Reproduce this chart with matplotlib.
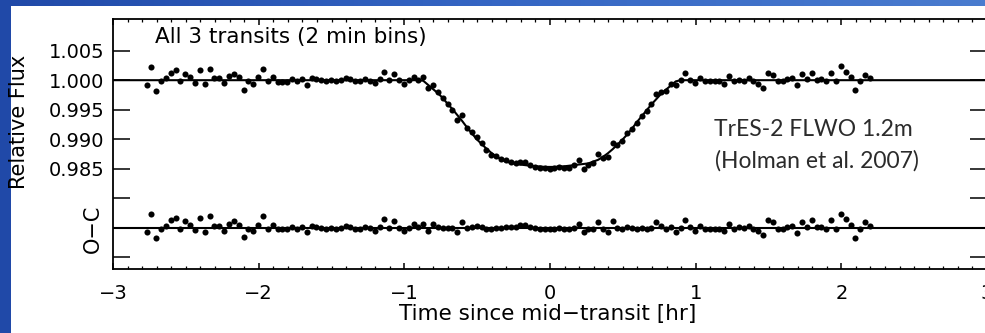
import numpy as np
import matplotlib
matplotlib.use("Agg")
import matplotlib.pyplot as plt
from matplotlib.patches import Rectangle
from matplotlib.colors import LinearSegmentedColormap
from matplotlib.ticker import MultipleLocator, FixedLocator, FixedFormatter

# Combined light curve of three transits, binned to 2 minutes
t_first_bin = -2.77          # hr, centre of the first bin
bin_hr = 2.0 / 60.0          # 2 min bins

# Observed minus computed residuals for each bin
resid = [
    -0.0008, 0.0023, -0.0018, -0.0002, 0.0003, 0.0013, 0.0017, -0.0002, 0.0011, 0.0005,
    -0.0004, 0.0017, -0.0007, 0.0019, 0.0003, 0.0003, -0.0005, 0.0007, 0.0011, 0.0005,
    -0.0016, -0.0002, -0.0006, 0.0005, 0.0019, -0.0002, 0.0005, -0.0003, -0.0003, -0.0003,
    0.0002, -0.0002, 0.0002, -0.0008, 0.0003, 0.0002, 0.0000, -0.0002,
    0.0000, -0.0002, 0.0000, 0.0003, 0.0002, -0.0002, -0.0002, 0.0002, -0.0001, -0.0005,
    0.0002, 0.0014, 0.0000, 0.0011, 0.0000, -0.0006, 0.0000, 0.0006, 0.0001, 0.0007,
    -0.0006, 0.0006, 0.0002, 0.0000, 0.0000, -0.0001, -0.0008, 0.0010, -0.0001, 0.0002,
    0.0003, 0.0002, -0.0002, -0.0003, 0.0000, 0.0000, 0.0002, 0.0001,
    0.0002, 0.0005, 0.0005, 0.0001, -0.0001, -0.0003, -0.0002, -0.0003, -0.0002, -0.0001,
    -0.0002, -0.0003, 0.0000, 0.0007, -0.0008, -0.0002, -0.0003, 0.0010, -0.0002, -0.0007,
    0.0011, 0.0000, -0.0002, 0.0002, -0.0001, -0.0002, 0.0000, -0.0002, 0.0000, 0.0009,
    0.0003, -0.0002, 0.0002, -0.0007, 0.0000, 0.0013, 0.0001, -0.0005,
    0.0003, -0.0002, -0.0002, -0.0002, -0.0002, -0.0006, 0.0007, -0.0002, 0.0001, -0.0001,
    0.0003, -0.0002, -0.0006, -0.0013, 0.0013, 0.0009, -0.0002, -0.0002, 0.0002, 0.0003,
    -0.0009, 0.0010, 0.0002, 0.0013, 0.0001, 0.0002, -0.0002, 0.0013, -0.0002, 0.0024,
    0.0014, 0.0005, -0.0017, -0.0002, 0.0009, 0.0003,
]

# Best-fit transit model: flat before ingress, the dip, flat after egress
n_bins_before = 57
model_dip = [
    0.9999, 0.9992, 0.9985, 0.9978, 0.9970, 0.9960, 0.9951, 0.9941, 0.9931, 0.9920,
    0.9910, 0.9900, 0.9892, 0.9884, 0.9877, 0.9871, 0.9866, 0.9862, 0.9860, 0.9858,
    0.9857, 0.9856, 0.9855, 0.9854, 0.9854, 0.9853, 0.9853,
    0.9853, 0.9854, 0.9854, 0.9855, 0.9856, 0.9857, 0.9858, 0.9859, 0.9862, 0.9865,
    0.9870, 0.9876, 0.9883, 0.9891, 0.9899, 0.9908, 0.9918, 0.9929, 0.9939, 0.9949,
    0.9959, 0.9968, 0.9977, 0.9984, 0.9991, 0.9998,
]
n_bins_after = 40
baseline = 1.0
oc_level = 0.975             # residuals are drawn around this level

resid = np.array(resid)
t = t_first_bin + bin_hr * np.arange(resid.size)
model = np.concatenate([np.full(n_bins_before, baseline),
                        np.array(model_dip),
                        np.full(n_bins_after, baseline)])
flux = model + resid

W, H = 985, 333
fig = plt.figure(figsize=(W / 100, H / 100), dpi=100)

# slide background: blue frame with a white panel
bg = fig.add_axes([0, 0, 1, 1], zorder=-10)
grad = np.linspace(0, 1, 256)[None, :]
cmap = LinearSegmentedColormap.from_list("slide", ["#2049a8", "#3566c4", "#4a7ccf"])
bg.imshow(grad, aspect="auto", cmap=cmap, extent=[0, 1, 0, 1])
bg.set_axis_off()
fig.add_artist(Rectangle((11 / W, 0), 1, (H - 6) / H, transform=fig.transFigure,
                         facecolor="white", edgecolor="none", zorder=-5))

left, right, top, bottom = 113, 987, 19, 269
ax = fig.add_axes([left / W, 1 - bottom / H, (right - left) / W, (bottom - top) / H])
ax.set_facecolor("none")

ax.plot(np.r_[-3, t, 3], np.r_[baseline, model, baseline], color="black", lw=1.5, zorder=2)
ax.plot(t, flux, "o", color="black", ms=4.4, mec="none", zorder=3)
ax.axhline(oc_level, color="black", lw=1.5, zorder=2)
ax.plot(t, oc_level + resid, "o", color="black", ms=4.4, mec="none", zorder=3)

ax.set_xlim(-3, 3)
ax.set_ylim(0.9680, 1.01037)

yt = [0.970, 0.975, 0.980, 0.985, 0.990, 0.995, 1.000, 1.005]
ylab = ["", "", "", "0.985", "0.990", "0.995", "1.000", "1.005"]
ax.yaxis.set_major_locator(FixedLocator(yt))
ax.yaxis.set_major_formatter(FixedFormatter(ylab))
ax.xaxis.set_major_locator(MultipleLocator(1))
ax.xaxis.set_minor_locator(MultipleLocator(0.1))

ax.tick_params(axis="y", which="major", direction="in", length=12.5, width=1.1,
               left=True, right=True, labelsize=14, pad=6)
ax.tick_params(axis="x", which="major", direction="in", length=4, width=1.1,
               top=True, bottom=True, labelsize=14, pad=11)
ax.tick_params(axis="x", which="minor", direction="in", length=2, width=0.9,
               top=True, bottom=True)
for s in ax.spines.values():
    s.set_linewidth(1.3)

fs = 15
fig.text(19 / W, 1 - 122 / H, "Relative Flux", rotation=90, ha="center", va="center",
         fontsize=fs)
fig.text(93 / W, 1 - 229 / H, "O\u2212C", rotation=90, ha="center", va="center",
         fontsize=fs)
fig.text(548 / W, 1 - 314 / H, "Time since mid\u2212transit [hr]", ha="center",
         va="center", fontsize=15.5)
fig.text(155 / W, 1 - 37 / H, "All 3 transits (2 min bins)", ha="left", va="center",
         fontsize=15.5)
fig.text(813 / W, 1 - 129 / H, "TrES-2 FLWO 1.2m", ha="center", va="center",
         fontsize=16.5, family="Lato", color="#2b2b2b")
fig.text(817 / W, 1 - 161 / H, "(Holman et al. 2007)", ha="center", va="center",
         fontsize=16.5, family="Lato", color="#2b2b2b")

fig.savefig("out.png", dpi=100)
